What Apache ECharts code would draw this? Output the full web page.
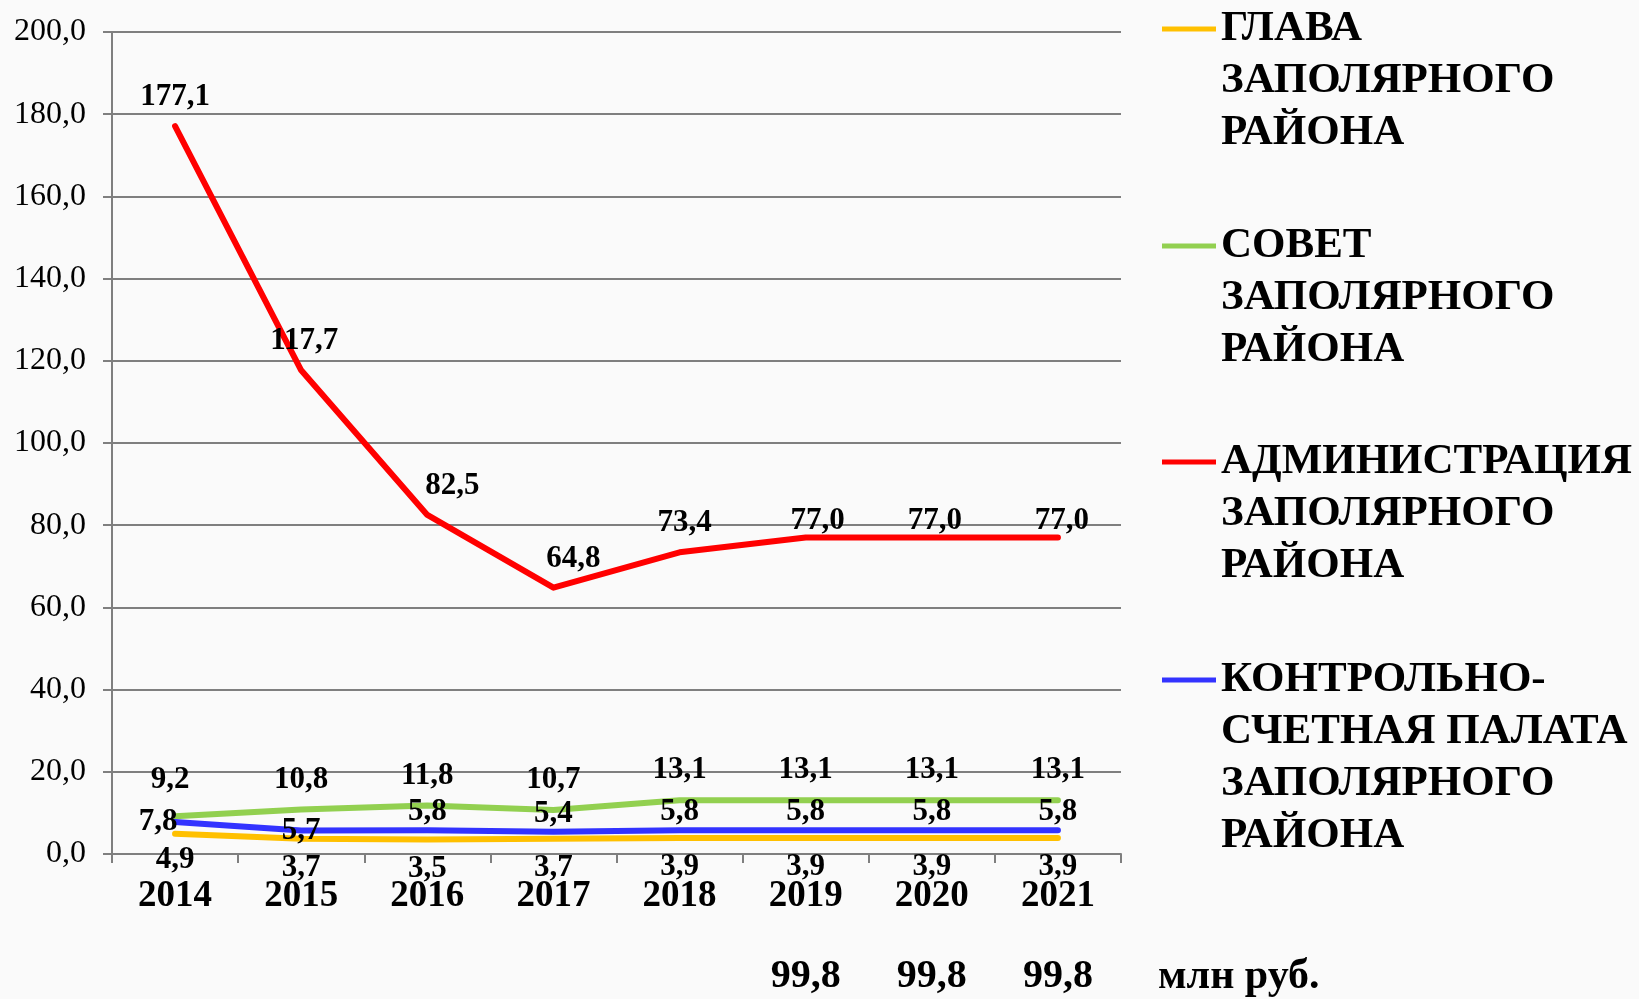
<!DOCTYPE html>
<html>
<head>
<meta charset="utf-8">
<script src="https://cdn.jsdelivr.net/npm/echarts@6/dist/echarts.min.js"></script>
<style>
html,body{margin:0;padding:0;background:#fafafa;}
#chart{width:1639px;height:999px;}
</style>
</head>
<body>
<div id="chart"></div>
<script>
// ---- data ----
const years = ['2014', '2015', '2016', '2017', '2018', '2019', '2020', '2021'];
const glava = [4.9, 3.7, 3.5, 3.7, 3.9, 3.9, 3.9, 3.9];
const sovet = [9.2, 10.8, 11.8, 10.7, 13.1, 13.1, 13.1, 13.1];
const admin = [177.1, 117.7, 82.5, 64.8, 73.4, 77.0, 77.0, 77.0];
const ksp = [7.8, 5.7, 5.8, 5.4, 5.8, 5.8, 5.8, 5.8];
const totals = [null, null, null, null, null, 99.8, 99.8, 99.8];
const yTicks = [0, 20, 40, 60, 80, 100, 120, 140, 160, 180, 200];
const seriesNames = [
  'ГЛАВА\nЗАПОЛЯРНОГО\nРАЙОНА',
  'СОВЕТ\nЗАПОЛЯРНОГО\nРАЙОНА',
  'АДМИНИСТРАЦИЯ\nЗАПОЛЯРНОГО\nРАЙОНА',
  'КОНТРОЛЬНО-\nСЧЕТНАЯ ПАЛАТА\nЗАПОЛЯРНОГО\nРАЙОНА'
];

// ---- styling ----
const FONT = 'Liberation Serif';
const fmt = v => v.toFixed(1).replace('.', ',');
const colors = ['#FFC000', '#92D050', '#FF0000', '#3333FF'];
const labelBase = { show: true, fontFamily: FONT, fontWeight: 'bold', fontSize: 31, color: '#000',
  formatter: p => fmt(p.value) };

// per-point label tweaks (style only)
const redOffsets = [[0, 0], [3, 0], [25, 0], [20, 0], [5, 0], [12, 12], [3, 12], [4, 12]];
function buildData(vals, labelFn) {
  return vals.map((v, i) => ({ value: v, label: labelFn(i) }));
}

const LH = 52;
function legendIcon(lines) {
  const H = lines * LH;
  return 'path://M0,0h0.01v0.01h-0.01z M0,' + (LH / 2 - 2.5) + 'h54v5h-54z M53.99,' + (H - 0.01) + 'h0.01v0.01h-0.01z';
}
function makeLegend(idx, top) {
  const lines = seriesNames[idx].split('\n').length;
  return {
    show: true, data: [seriesNames[idx]], left: 1162, top: top, orient: 'vertical',
    itemWidth: 54, itemHeight: lines * LH, icon: legendIcon(lines), symbolKeepAspect: false,
    itemStyle: { borderWidth: 0 },
    textStyle: { fontFamily: FONT, fontWeight: 'bold', fontSize: 43, lineHeight: LH, color: '#000' },
    selectedMode: false, padding: 0
  };
}

function lineSeries(idx, vals, labelFn) {
  return {
    name: seriesNames[idx], type: 'line', data: buildData(vals, labelFn),
    symbol: 'circle', symbolSize: 1, showSymbol: true,
    lineStyle: { width: 6, color: colors[idx], cap: 'round', join: 'round' },
    itemStyle: { color: colors[idx] },
    label: labelBase, z: 2 + idx, animation: false
  };
}

const chart = echarts.init(document.getElementById('chart'), null, { renderer: 'canvas' });
chart.setOption({
  backgroundColor: '#fafafa',
  animation: false,
  textStyle: { fontFamily: FONT },
  grid: { left: 112, right: 518, top: 32, bottom: 145, containLabel: false },
  legend: [makeLegend(0, 3), makeLegend(1, 220), makeLegend(2, 436), makeLegend(3, 654)],
  title: {
    text: 'млн руб.', left: 1158, top: 956, padding: 0,
    textStyle: { fontFamily: FONT, fontWeight: 'bold', fontSize: 42, color: '#000' }
  },
  xAxis: [{
    type: 'category', data: years, boundaryGap: true, position: 'bottom',
    axisLine: { show: true, lineStyle: { color: '#7f7f7f', width: 2 } },
    axisTick: { show: true, length: 9, interval: 0, lineStyle: { color: '#7f7f7f', width: 2 } },
    axisLabel: { margin: 24, interval: 0, fontFamily: FONT, fontWeight: 'bold', fontSize: 37, color: '#000' }
  }, {
    type: 'category', data: years, boundaryGap: true, position: 'bottom', offset: 98,
    axisLine: { show: false }, axisTick: { show: false },
    axisLabel: { margin: 5, interval: 0, fontFamily: FONT, fontWeight: 'bold', fontSize: 40, color: '#000',
      formatter: (v, i) => totals[i] == null ? '' : fmt(totals[i]) }
  }],
  yAxis: {
    type: 'value', min: yTicks[0], max: yTicks[yTicks.length - 1], interval: yTicks[1] - yTicks[0],
    axisLine: { show: true, lineStyle: { color: '#7f7f7f', width: 2 } },
    axisTick: { show: true, length: 9, lineStyle: { color: '#7f7f7f', width: 2 } },
    splitLine: { show: true, lineStyle: { color: '#7f7f7f', width: 2 } },
    axisLabel: { margin: 26, fontFamily: FONT, fontSize: 32, color: '#000', formatter: v => fmt(v) }
  },
  series: [
    lineSeries(0, glava, i => ({ position: 'bottom', distance: i === 0 ? 10 : 13 })),
    lineSeries(1, sovet, i => ({ position: 'top', distance: i === 0 ? 20 : 14, offset: [i === 0 ? -5 : 0, 0] })),
    lineSeries(2, admin, i => ({ position: 'top', distance: 13, offset: redOffsets[i] })),
    lineSeries(3, ksp, i => i === 0 ? { position: 'left', distance: -3 }
      : i === 1 ? { position: 'inside' } : { position: 'top', distance: 2 })
  ]
});
</script>
</body>
</html>
